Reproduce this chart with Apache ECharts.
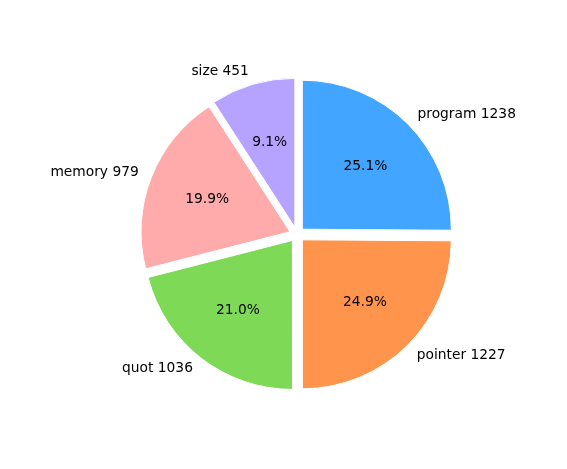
<!DOCTYPE html>
<html><head><meta charset="utf-8">
<script src="https://cdn.jsdelivr.net/npm/echarts@6/dist/echarts.min.js"></script>
<style>html,body{margin:0;padding:0;background:#fff}#c{width:567px;height:469px}</style>
</head><body><div id="c"></div>
<script>
const categories = ['program', 'pointer', 'quot', 'memory', 'size'];
const values = [1238, 1227, 1036, 979, 451];
const colors = ['#42a5ff', '#ff944d', '#7ed957', '#ffabab', '#b6a3ff'];

const R = 149;
const center = [297, 234.5];
const offset = 7.5;
const font = 'DejaVu Sans';
const fs = 13.8;

const chart = echarts.init(document.getElementById('c'), null, {renderer: 'canvas'});
const total = values.reduce((a, b) => a + b, 0);

const mainData = categories.map((c, i) => ({
  name: c, value: values[i], selected: true,
  itemStyle: {color: colors[i]}
}));
const pctData = categories.map((c, i) => ({
  name: c, value: values[i], selected: true
}));

chart.setOption({
  animation: false,
  backgroundColor: '#fff',
  series: [
    {
      type: 'pie',
      center: center,
      radius: [0, R],
      startAngle: 90,
      clockwise: true,
      selectedMode: 'multiple',
      selectedOffset: offset,
      avoidLabelOverlap: false,
      silent: true,
      itemStyle: {borderColor: '#fff', borderWidth: 1},
      select: {itemStyle: {borderColor: '#fff', borderWidth: 1}},
      label: {
        show: true, position: 'outside',
        formatter: p => p.name + ' ' + p.value,
        color: '#000', fontFamily: font, fontSize: fs,
        distanceToLabelLine: 0,
        padding: [5, 0, 0, 0]
      },
      labelLine: {show: false, length: R * 0.1 - 1.5, length2: 0},
      data: mainData
    },
    {
      type: 'pie',
      center: center,
      radius: [0, R * 1.2 - 7],
      startAngle: 90,
      clockwise: true,
      selectedMode: 'multiple',
      selectedOffset: offset,
      avoidLabelOverlap: false,
      silent: true,
      z: 5,
      itemStyle: {color: 'rgba(0,0,0,0)', borderWidth: 0},
      select: {itemStyle: {color: 'rgba(0,0,0,0)', borderWidth: 0}},
      label: {
        show: true, position: 'inside',
        formatter: p => (p.value / total * 100).toFixed(1) + '%',
        color: '#000', fontFamily: font, fontSize: fs,
        padding: [7, 0, 0, 0]
      },
      labelLine: {show: false},
      data: pctData
    }
  ]
});
</script>
</body></html>
